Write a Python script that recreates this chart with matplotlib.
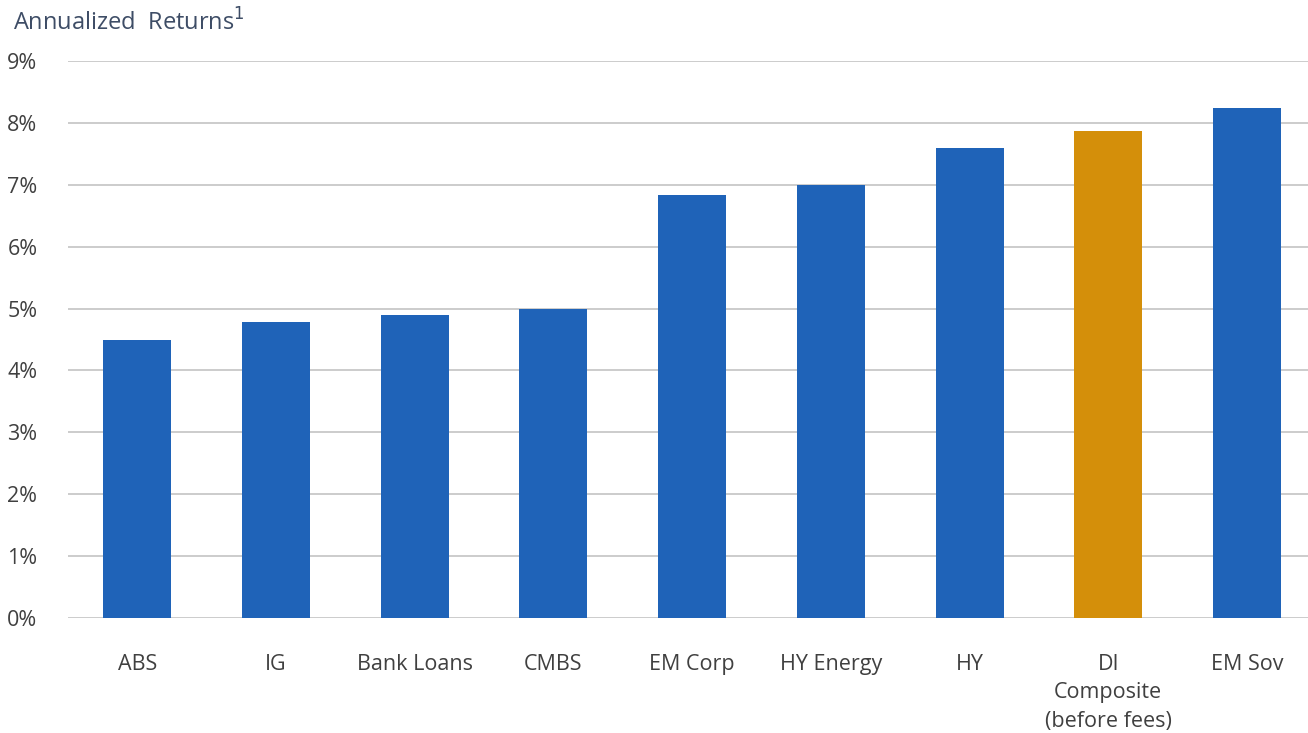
import matplotlib.pyplot as plt
from matplotlib.ticker import FuncFormatter

categories = ['ABS', 'IG', 'Bank Loans', 'CMBS', 'EM Corp', 'HY Energy', 'HY',
              'DI\nComposite\n(before fees)', 'EM Sov']
returns = [4.50, 4.79, 4.90, 4.99, 6.83, 7.00, 7.60, 7.87, 8.24]
highlight = 'DI\nComposite\n(before fees)'

blue = '#1F63B8'
gold = '#D48F0A'
colors = [gold if c == highlight else blue for c in categories]

plt.rcParams['font.family'] = ['Open Sans', 'DejaVu Sans']

fig = plt.figure(figsize=(13.08, 7.33), dpi=100)
ax = fig.add_axes([68 / 1308, 1 - 618 / 733, 1 - 68 / 1308, (618 - 61) / 733])

x = range(len(categories))
ax.bar(x, returns, width=0.49, color=colors, zorder=3)

ax.set_ylim(0, 9)
ax.set_xlim(-0.5, 8.44)
ax.set_yticks(range(0, 10))
ax.yaxis.set_major_formatter(FuncFormatter(lambda v, p: f'{int(v)}%'))
ax.set_xticks(list(x))
ax.set_xticklabels(categories, linespacing=1.45)

ax.grid(axis='y', color='#C8C8C8', linewidth=1.3, zorder=0)
for s in ax.spines.values():
    s.set_visible(False)
ax.tick_params(axis='both', length=0, labelsize=15.5, colors='#404040')
ax.tick_params(axis='y', pad=22)
ax.tick_params(axis='x', pad=26)

fig.text(13 / 1308, 1 - 23 / 733, 'Annualized  Returns$^{1}$', fontsize=17,
         color='#3E4D66', va='center', ha='left')

fig.savefig('out.png', dpi=100, facecolor='white')
